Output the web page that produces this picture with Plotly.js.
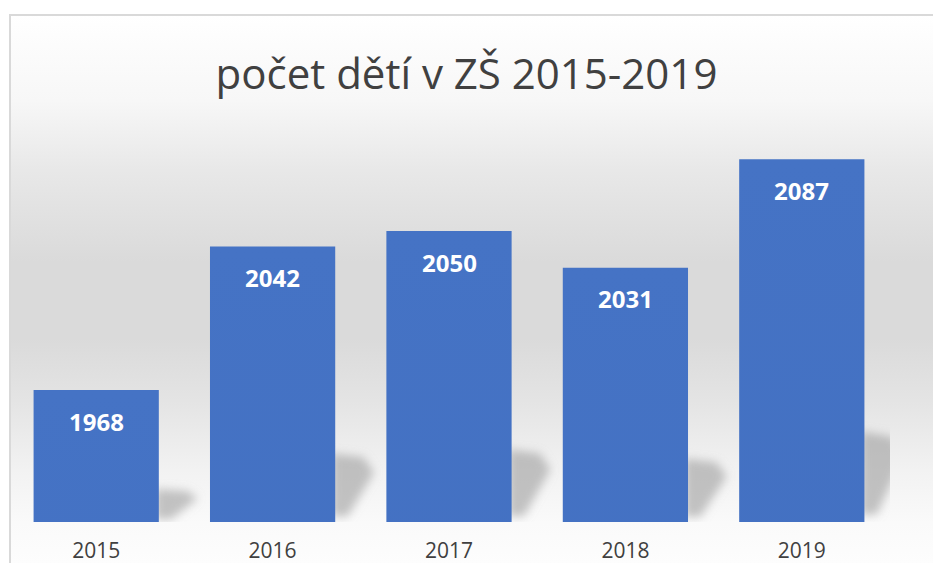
<!DOCTYPE html>
<html><head><meta charset="utf-8">
<script src="https://cdn.plot.ly/plotly-3.0.1.min.js"></script>
<style>html,body{margin:0;padding:0;background:#fff}#chart{width:933px;height:563px}</style>
</head><body><div id="chart"></div>
<script>
const years = ['2015', '2016', '2017', '2018', '2019'];
const pupils = [1968, 2042, 2050, 2031, 2087];
const chartTitle = 'počet dětí v ZŠ 2015-2019';
const yMin = 1900, yMax = 2100;

const W = 933, H = 563;
const M = {l: 8, r: 43, t: 134, b: 41};
const pw = W - M.l - M.r, ph = H - M.t - M.b;
const idx = years.map((_, i) => i);
const halfBar = 0.355;

// background gradient + chart frame (left/top border)
const bgSvg = `<svg xmlns="http://www.w3.org/2000/svg" width="925" height="550" viewBox="0 0 925 550" preserveAspectRatio="none">
<defs><linearGradient id="g" x1="0" y1="0" x2="0" y2="1">
<stop offset="0" stop-color="#ffffff"/><stop offset="0.157" stop-color="#f7f7f7"/>
<stop offset="0.284" stop-color="#e8e8e8"/><stop offset="0.45" stop-color="#dadada"/>
<stop offset="0.59" stop-color="#dadada"/><stop offset="0.703" stop-color="#e4e4e4"/>
<stop offset="0.83" stop-color="#f2f2f2"/><stop offset="0.925" stop-color="#fafafa"/>
<stop offset="1" stop-color="#fdfdfd"/></linearGradient></defs>
<rect x="0" y="0" width="925" height="550" fill="url(#g)"/>
<line x1="1" y1="0" x2="1" y2="550" stroke="#d9d9d9" stroke-width="2"/>
<line x1="0" y1="1" x2="925" y2="1" stroke="#d9d9d9" stroke-width="2"/>
</svg>`;
const bgSrc = 'data:image/svg+xml;charset=utf-8,' + encodeURIComponent(bgSvg);

// soft perspective shadows to the right of each bar (blurred after render)
const shadowPoly = [[-0.02, 0.02], [-0.02, 0.25], [0.16, 0.235], [0.22, 0.18], [0.07, 0.02]];
const shapes = pupils.map((v, i) => {
  const h = v - yMin;
  const xr = i + halfBar;
  const pts = shadowPoly.map(p => (xr + p[0]) + ',' + (yMin + p[1] * h));
  return {type: 'path', xref: 'x', yref: 'y', layer: 'below',
    path: 'M' + pts.join(' L') + ' Z', fillcolor: 'rgba(150,150,150,0.55)', line: {width: 0}};
});

const annotations = pupils.map((v, i) => ({
  x: i, y: v, xref: 'x', yref: 'y', text: String(v), showarrow: false,
  yanchor: 'middle', yshift: -31,
  font: {family: 'Open Sans, sans-serif', size: 24, color: '#ffffff', weight: 700}
}));

const trace = {
  type: 'bar', x: idx, y: pupils, width: 2 * halfBar,
  marker: {color: '#3c66b6', line: {width: 0}},
  hoverinfo: 'skip'
};

const layout = {
  width: W, height: H,
  margin: M,
  paper_bgcolor: '#ffffff', plot_bgcolor: 'rgba(0,0,0,0)',
  title: {text: chartTitle, x: 0.5, xref: 'container', y: 1 - 74 / H, yref: 'container', yanchor: 'middle',
    font: {family: 'Open Sans, sans-serif', size: 42, color: '#404040'}},
  xaxis: {range: [-0.5, 4.5], tickvals: idx, ticktext: years, showgrid: false, zeroline: false,
    showline: false, ticks: '', ticklabelstandoff: 14,
    tickfont: {family: 'Open Sans, sans-serif', size: 21, color: '#404040'}, fixedrange: true},
  yaxis: {range: [yMin, yMax], visible: false, showgrid: false, zeroline: false, fixedrange: true},
  showlegend: false,
  shapes: shapes,
  annotations: annotations,
  images: [{source: bgSrc, xref: 'paper', yref: 'paper',
    x: (9 - M.l) / pw, y: (H - M.b - 14) / ph, sizex: (W + 1 - 9) / pw, sizey: (H + 1 - 14) / ph,
    xanchor: 'left', yanchor: 'top', sizing: 'stretch', layer: 'below'}]
};

function decorate(gd) {
  const ns = 'http://www.w3.org/2000/svg';
  const svg = gd.querySelector('svg.main-svg');
  if (!svg) return;
  let defs = svg.querySelector('defs');
  if (!defs) { defs = document.createElementNS(ns, 'defs'); svg.insertBefore(defs, svg.firstChild); }
  if (!svg.querySelector('#barGrad')) {
    const lg = document.createElementNS(ns, 'linearGradient');
    lg.setAttribute('id', 'barGrad');
    lg.setAttribute('x1', '0'); lg.setAttribute('y1', '0');
    lg.setAttribute('x2', '0'); lg.setAttribute('y2', '1');
    [['0', '#4573c5'], ['1', '#345ca8']].forEach(([o, c]) => {
      const st = document.createElementNS(ns, 'stop');
      st.setAttribute('offset', o); st.setAttribute('stop-color', c);
      lg.appendChild(st);
    });
    defs.appendChild(lg);
    const f = document.createElementNS(ns, 'filter');
    f.setAttribute('id', 'shadowBlur');
    f.setAttribute('x', '-50%'); f.setAttribute('y', '-50%');
    f.setAttribute('width', '200%'); f.setAttribute('height', '200%');
    const gb = document.createElementNS(ns, 'feGaussianBlur');
    gb.setAttribute('stdDeviation', '5');
    f.appendChild(gb);
    defs.appendChild(f);
  }
  gd.querySelectorAll('.trace.bars .point path').forEach(p => {
    p.style.fill = 'url(#barGrad)';
    p.setAttribute('fill', 'url(#barGrad)');
  });
  gd.querySelectorAll('.shapelayer path').forEach(p => {
    p.setAttribute('filter', 'url(#shadowBlur)');
    p.style.filter = 'url(#shadowBlur)';
  });
}

Plotly.newPlot('chart', [trace], layout, {displayModeBar: false, staticPlot: true}).then(gd => {
  decorate(gd);
  requestAnimationFrame(() => decorate(gd));
});
</script>
</body></html>
